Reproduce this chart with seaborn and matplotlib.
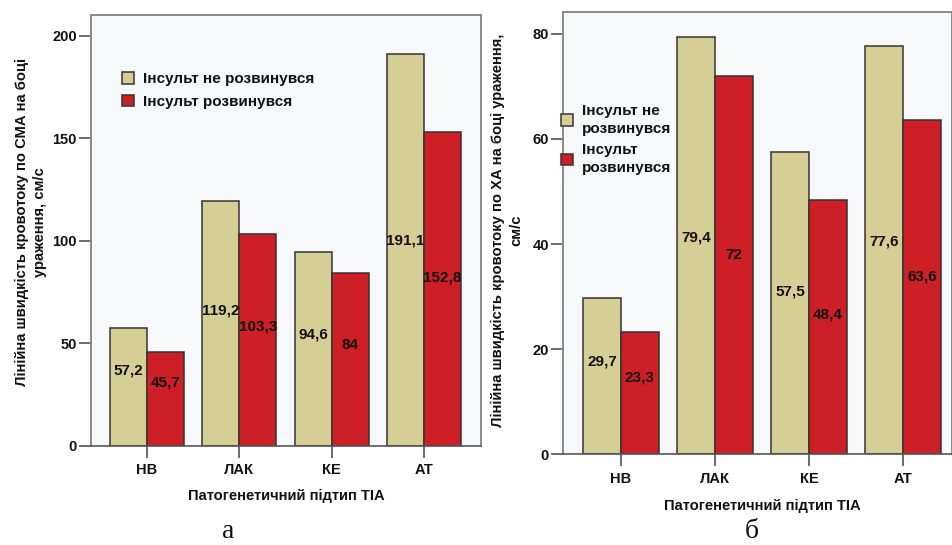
import matplotlib
matplotlib.use("Agg")
import matplotlib.pyplot as plt
import seaborn as sns
import pandas as pd

# ---------------- data ----------------
categories = ["НВ", "ЛАК", "КЕ", "АТ"]
groups = ["Інсульт не розвинувся", "Інсульт розвинувся"]
cma_no_stroke = [57.2, 119.2, 94.6, 191.1]
cma_stroke = [45.7, 103.3, 84.0, 152.8]
xa_no_stroke = [29.7, 79.4, 57.5, 77.6]
xa_stroke = [23.3, 72.0, 48.4, 63.6]
cma_yticks = [0, 50, 100, 150, 200]
xa_yticks = [0, 20, 40, 60, 80]
xlabel = "Патогенетичний підтип ТІА"
ylabel_cma = "Лінійна швидкість кровотоку по СМА на боці\nураження, см/с"
ylabel_xa = "Лінійна швидкість кровотоку по ХА на боці ураження,\nсм/с"
legend_right_labels = ["Інсульт не\nрозвинувся", "Інсульт\nрозвинувся"]
panel_letters = ["а", "б"]


def long_df(no, yes):
    return pd.DataFrame({
        "cat": categories * 2,
        "group": [groups[0]] * len(categories) + [groups[1]] * len(categories),
        "value": list(no) + list(yes),
    })


df_cma = long_df(cma_no_stroke, cma_stroke)
df_xa = long_df(xa_no_stroke, xa_stroke)

sns.set_theme(style="white")
plt.rcParams["font.family"] = ["Liberation Sans", "DejaVu Sans"]
plt.rcParams["font.weight"] = "bold"

W, H = 952, 545
fig = plt.figure(figsize=(W / 100, H / 100), dpi=100)

palette = {groups[0]: "#D5CF95", groups[1]: "#CE1F27"}
BG = "#F7F8FA"
TXT = "#111111"


def px_axes(l, t, r, b):
    return fig.add_axes([l / W, 1 - b / H, (r - l) / W, (b - t) / H])


ax1 = px_axes(90.7, 15, 481, 445.7)
ax2 = px_axes(562.7, 11.7, 952, 454.3)


def fmt(v):
    return f"{v:g}".replace(".", ",")


def draw(ax, df, yticks, ylim, xlim):
    sns.barplot(data=df, x="cat", y="value", hue="group", order=categories,
                hue_order=groups, palette=palette, width=0.8, saturation=1,
                edgecolor="#333333", linewidth=1.1, ax=ax, legend=True)
    ax.set_facecolor(BG)
    ax.set_ylim(*ylim)
    ax.set_xlim(*xlim)
    ax.set_yticks(yticks)
    ax.set_yticklabels([str(t) for t in yticks])
    ax.tick_params(axis="both", direction="out", length=8.5, width=1.1,
                   color="#444444", labelsize=10.5, labelcolor=TXT,
                   bottom=True, left=True, top=False, right=False)
    ax.tick_params(axis="y", pad=1.5)
    ax.tick_params(axis="x", pad=4.0)
    for s in ["top", "right", "left"]:
        ax.spines[s].set_color("#8A8A8A")
        ax.spines[s].set_linewidth(1.4)
    ax.spines["bottom"].set_color("#555555")
    ax.spines["bottom"].set_linewidth(1.2)
    ax.set_ylabel("")
    ax.set_xlabel(xlabel, fontsize=10.6, fontweight="bold", color=TXT)
    for cont in ax.containers:
        for bar in cont:
            h = bar.get_height()
            x = bar.get_x() + bar.get_width() / 2
            ax.annotate(fmt(h), xy=(x, h * 0.475), xytext=(0, 13.7),
                        textcoords="offset points", ha="center", va="center",
                        fontsize=11, fontweight="bold", color=TXT)


draw(ax1, df_cma, cma_yticks, (0, 210), (-0.61, 3.617))
draw(ax2, df_xa, xa_yticks, (0, 84.2), (-0.62, 3.52))

ax1.xaxis.set_label_coords(0.5, -0.1)
ax2.xaxis.set_label_coords((1.5 + 0.62) / (3.52 + 0.62), -0.101)

# legends
leg_kw = dict(loc="upper left", bbox_transform=fig.transFigure, frameon=False,
              borderpad=0, borderaxespad=0, handlelength=0.8, handleheight=0.8,
              handletextpad=0.6, prop={"size": 11, "weight": "bold"})
h1, l1 = ax1.get_legend_handles_labels()
leg1 = ax1.legend(h1, l1, bbox_to_anchor=(122 / W, 1 - 72 / H),
                  labelspacing=0.55, **leg_kw)
h2, l2 = ax2.get_legend_handles_labels()
leg2 = ax2.legend(h2, legend_right_labels, bbox_to_anchor=(561 / W, 1 - 104 / H),
                  labelspacing=0.5, **leg_kw)
for t in leg2.get_texts():
    t.set_linespacing(1.35)
for leg in (leg1, leg2):
    for t in leg.get_texts():
        t.set_color(TXT)

# y labels
fig.text(31 / W, 1 - 222 / H, ylabel_cma, rotation=90, ha="center", va="center",
         multialignment="center", fontsize=10.6, fontweight="bold",
         color=TXT, linespacing=1.35)
fig.text(507.5 / W, 1 - 230 / H, ylabel_xa, rotation=90, ha="center", va="center",
         multialignment="center", fontsize=10.6, fontweight="bold",
         color=TXT, linespacing=1.4)

# panel letters
for xpix, letter in zip([228, 752], panel_letters):
    fig.text(xpix / W, 1 - 538 / H, letter, ha="center", va="baseline",
             family=["Liberation Serif", "DejaVu Serif"], fontweight="normal",
             fontsize=20, color=TXT)

fig.savefig("out.png", dpi=100, facecolor="white")
